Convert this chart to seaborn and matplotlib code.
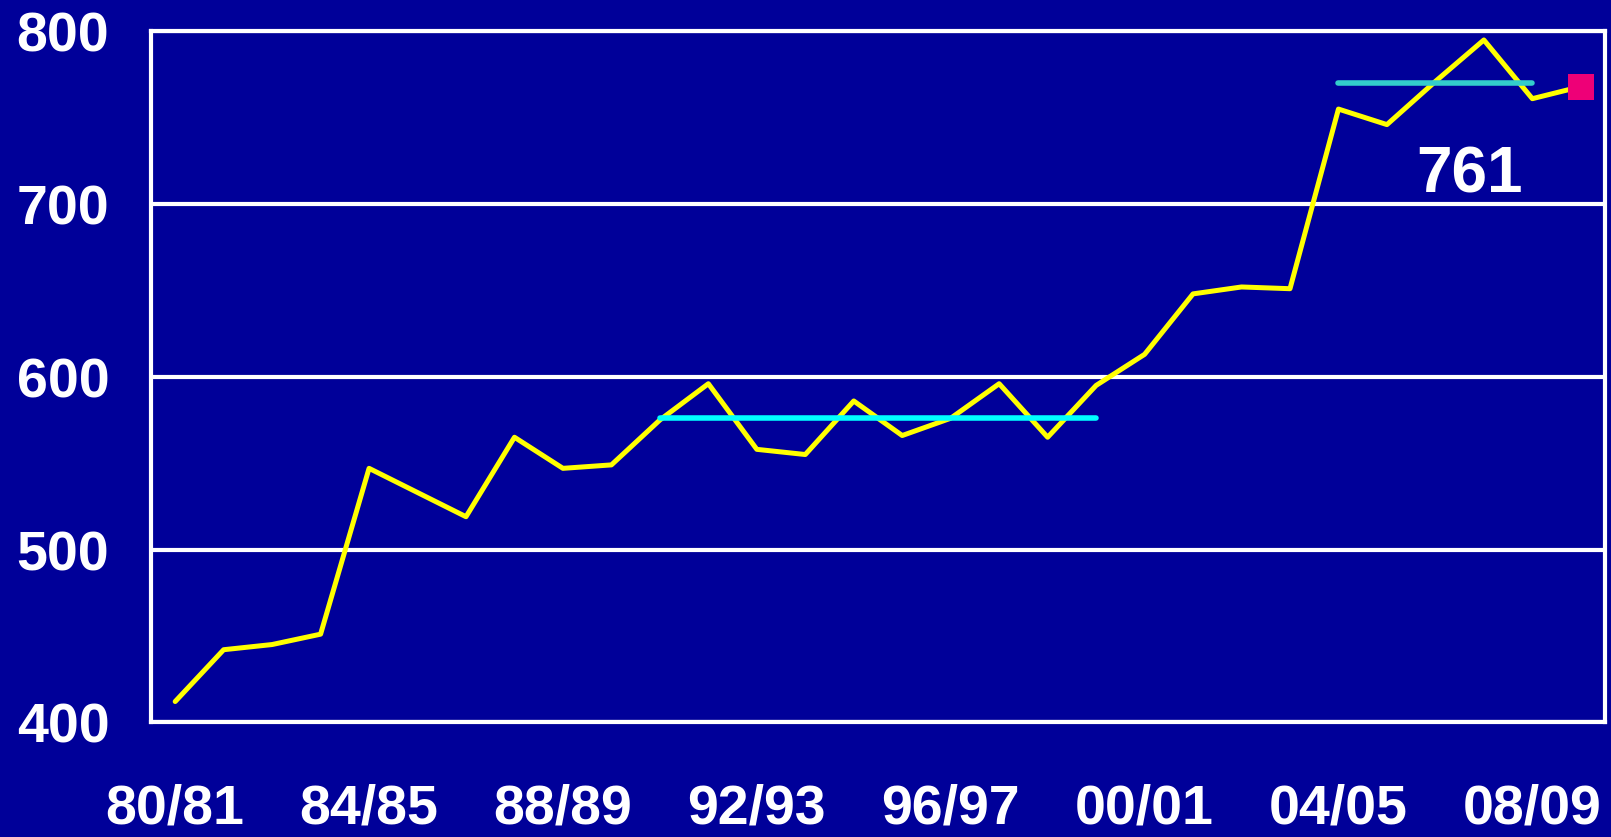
import matplotlib
matplotlib.use("Agg")
import matplotlib.pyplot as plt
import seaborn as sb

sb.set_theme(style="white")
plt.rcParams['font.family'] = ['Liberation Sans Narrow', 'Liberation Sans', 'DejaVu Sans']

BG = '#000099'

# yearly values, 80/81 .. 09/10
seasons = [f"{y % 100:02d}/{(y + 1) % 100:02d}" for y in range(1980, 2010)]
values = [412, 442, 445, 451, 547, 533, 519, 565, 547, 549,
          575, 596, 558, 555, 586, 566, 576, 596, 565, 595,
          613, 648, 652, 651, 755, 746, 771, 795, 761, 768]

# period averages (cyan bars): start index, end index, level
avg_spans = [(10, 19, 576), (24, 28, 770)]
avg_colors = ['#00FFFF', '#33CCCC']

tick_labels = seasons[::4]
y_ticks = [400, 500, 600, 700, 800]
callout = "761"

idx = list(range(len(values)))

fig = plt.figure(figsize=(16.11, 8.375), dpi=100, facecolor=BG)
ax = fig.add_axes([0.0937, 0.137, 0.9026, 0.825])
ax.set_facecolor(BG)

for y in y_ticks:
    ax.axhline(y, color='white', lw=3, zorder=1)

sb.lineplot(x=idx, y=values, ax=ax, color='#FFFF00', lw=3.6, zorder=3)

for (i0, i1, lvl), c in zip(avg_spans, avg_colors):
    sb.lineplot(x=[i0, i1], y=[lvl, lvl], ax=ax, color=c, lw=4,
                solid_capstyle='round', zorder=4)

ax.scatter([idx[-1]], [values[-1]], marker='s', s=330, color='#EE0077',
           zorder=5, linewidths=0)

ax.text(26.7, 717, callout, color='white', fontsize=46, fontweight='bold',
        ha='center', va='center')

ax.set_xlim(-0.5, 29.5)
ax.set_ylim(400, 800)
ax.set_xticks(idx[::4])
ax.set_xticklabels(tick_labels)
ax.set_yticks(y_ticks)
ax.tick_params(axis='x', length=0, pad=44, labelsize=40, colors='white')
ax.tick_params(axis='y', length=0, pad=30, labelsize=40, colors='white')
for lab in ax.get_xticklabels() + ax.get_yticklabels():
    lab.set_fontweight('bold')

for s in ax.spines.values():
    s.set_color('white')
    s.set_linewidth(3)

ax.set_xlabel('')
ax.set_ylabel('')

fig.savefig('out.png', dpi=100, facecolor=BG)
